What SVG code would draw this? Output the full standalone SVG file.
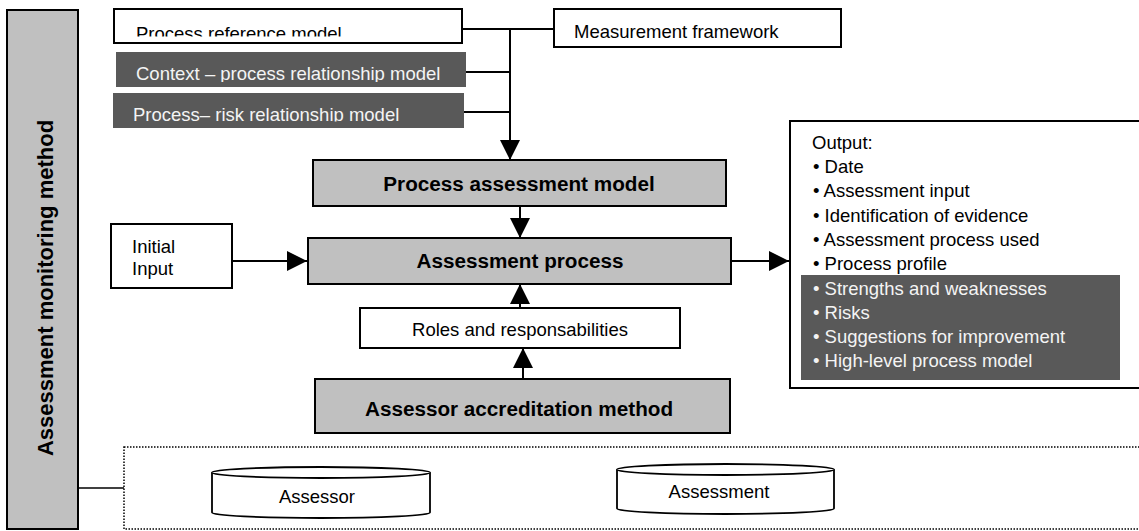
<svg xmlns="http://www.w3.org/2000/svg" width="1139" height="531" viewBox="0 0 1139 531">
  <style>
    text { font-family: "Liberation Sans", Arial, sans-serif; }
    .lbl { font-size: 18.5px; fill: #000; }
    .lbl-inv { font-size: 18.5px; fill: #f4f4f4; }
    .bold { font-size: 20.7px; font-weight: bold; fill: #000; }
    .box { fill: #fff; stroke: #000; stroke-width: 2; }
    .grey { fill: #c0c0c0; stroke: #000; stroke-width: 2; }
    .dark { fill: #595959; stroke: none; }
    .wire { fill: none; stroke: #000; stroke-width: 2; }
    .thin { fill: none; stroke: #000; stroke-width: 1.5; }
    .dotted { fill: none; stroke: #000; stroke-width: 1.5; stroke-dasharray: 1.5 1.5; }
    .drum { fill: #fff; stroke: #000; stroke-width: 1.8; }
  </style>
  <defs>
    <marker id="arrow" markerUnits="userSpaceOnUse" markerWidth="20" markerHeight="20" refX="20" refY="10" orient="auto">
      <path d="M0,0 L20,10 L0,20 Z" fill="#000"/>
    </marker>
    <clipPath id="clip-prm"><rect x="114" y="9" width="348" height="27.5"/></clipPath>
    <clipPath id="clip-ctx"><rect x="116" y="52" width="350" height="30"/></clipPath>
    <clipPath id="clip-risk"><rect x="113" y="93" width="351" height="28.5"/></clipPath>
  </defs>

  <!-- connectors -->
  <g id="connectors">
    <line class="wire" x1="462" y1="29" x2="554" y2="29"/>
    <line class="wire" x1="466" y1="72" x2="510" y2="72"/>
    <line class="wire" x1="460" y1="112" x2="510" y2="112"/>
    <line class="wire" x1="510" y1="29" x2="510" y2="160" marker-end="url(#arrow)"/>
    <line class="wire" x1="520" y1="206" x2="520" y2="238" marker-end="url(#arrow)"/>
    <line class="wire" x1="232" y1="261" x2="307" y2="261" marker-end="url(#arrow)"/>
    <line class="wire" x1="731" y1="261" x2="789" y2="261" marker-end="url(#arrow)"/>
    <line class="wire" x1="520" y1="308" x2="520" y2="284" marker-end="url(#arrow)"/>
    <line class="wire" x1="523" y1="379" x2="523" y2="348" marker-end="url(#arrow)"/>
    <line class="thin" x1="78" y1="488" x2="124" y2="488"/>
  </g>

  <!-- monitoring method side bar -->
  <g id="monitoring">
    <rect class="grey" x="7" y="10" width="71" height="519"/>
    <text class="bold" style="font-size:22px" text-anchor="middle" transform="translate(53,288) rotate(-90)">Assessment monitoring method</text>
  </g>

  <g id="reference-model">
    <rect class="box" x="114" y="9" width="348" height="34"/>
    <text class="lbl" x="136" y="40" clip-path="url(#clip-prm)">Process reference model</text>
  </g>

  <g id="measurement-framework">
    <rect class="box" x="554" y="9" width="287" height="38"/>
    <text class="lbl" x="574" y="38">Measurement framework</text>
  </g>

  <g id="context-model">
    <rect class="dark" x="116" y="52" width="350" height="35"/>
    <text class="lbl-inv" x="136" y="80" clip-path="url(#clip-ctx)">Context – process relationship model</text>
  </g>

  <g id="risk-model">
    <rect class="dark" x="113" y="93" width="351" height="35"/>
    <text class="lbl-inv" x="133" y="120.5" clip-path="url(#clip-risk)">Process– risk relationship model</text>
  </g>

  <g id="assessment-model">
    <rect class="grey" x="313" y="160" width="413" height="46"/>
    <text class="bold" x="519" y="191" text-anchor="middle">Process assessment model</text>
  </g>

  <g id="initial-input">
    <rect class="box" x="111" y="224" width="121" height="64"/>
    <text class="lbl" x="132" y="253">Initial</text>
    <text class="lbl" x="132" y="275">Input</text>
  </g>

  <g id="assessment-process">
    <rect class="grey" x="308" y="238" width="423" height="46"/>
    <text class="bold" x="520" y="268" text-anchor="middle">Assessment process</text>
  </g>

  <g id="roles">
    <rect class="box" x="360" y="308" width="320" height="40"/>
    <text class="lbl" x="520" y="336" text-anchor="middle">Roles and responsabilities</text>
  </g>

  <g id="accreditation">
    <rect class="grey" x="315" y="379" width="415" height="54"/>
    <text class="bold" x="519" y="416" text-anchor="middle">Assessor accreditation method</text>
  </g>

  <g id="output">
    <rect class="box" x="790" y="121" width="360" height="267"/>
    <rect class="dark" x="801" y="275" width="319" height="105"/>
    <text class="lbl" x="812" y="149">Output:</text>
    <text class="lbl" x="813" y="173">• Date</text>
    <text class="lbl" x="813" y="197.3">• Assessment input</text>
    <text class="lbl" x="813" y="221.6">• Identification of evidence</text>
    <text class="lbl" x="813" y="245.9">• Assessment process used</text>
    <text class="lbl" x="813" y="270.2">• Process profile</text>
    <text class="lbl-inv" x="813" y="294.5">• Strengths and weaknesses</text>
    <text class="lbl-inv" x="813" y="318.8">• Risks</text>
    <text class="lbl-inv" x="813" y="343.1">• Suggestions for improvement</text>
    <text class="lbl-inv" x="813" y="367.4">• High-level process model</text>
  </g>

  <!-- repository area -->
  <g id="repository">
    <rect class="dotted" x="124" y="447" width="1030" height="82"/>
  </g>

  <g id="assessor-store">
    <path class="drum" d="M212,472.5 A109,5.5 0 0 1 430,472.5 L430,512.5 A109,5.5 0 0 1 212,512.5 Z"/>
    <path class="drum" fill="none" d="M212,472.5 A109,5.5 0 0 0 430,472.5"/>
    <text class="lbl" x="317" y="503" text-anchor="middle">Assessor</text>
  </g>

  <g id="assessment-store">
    <path class="drum" d="M617,469.5 A108.5,5.5 0 0 1 834,469.5 L834,508.5 A108.5,5.5 0 0 1 617,508.5 Z"/>
    <path class="drum" fill="none" d="M617,469.5 A108.5,5.5 0 0 0 834,469.5"/>
    <text class="lbl" x="719" y="498" text-anchor="middle">Assessment</text>
  </g>
</svg>
